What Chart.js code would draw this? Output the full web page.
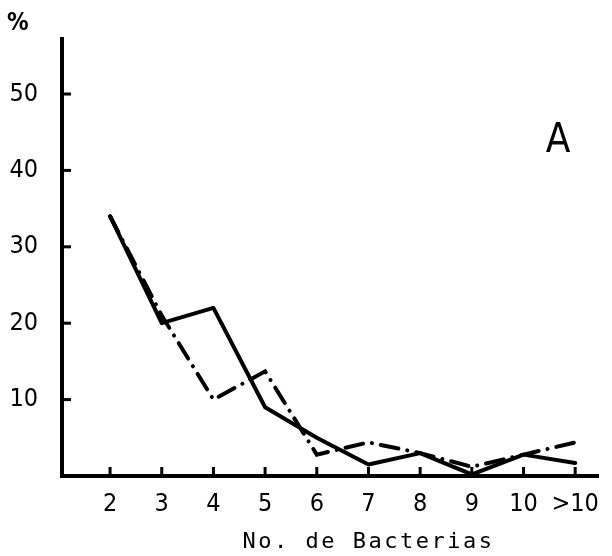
<!DOCTYPE html>
<html>
<head>
<meta charset="utf-8">
<script src="https://cdn.jsdelivr.net/npm/chart.js@4"></script>
<style>
  html, body { margin: 0; padding: 0; background: #fff; }
  #wrap { width: 612px; height: 556px; }
</style>
</head>
<body>
<div id="wrap"><canvas id="chart" width="612" height="556"></canvas></div>
<script>
// category positions and their labels
const xValues = [2, 3, 4, 5, 6, 7, 8, 9, 10, 11];
const xLabels = ['2', '3', '4', '5', '6', '7', '8', '9', '10', '>10'];
// percent values
const solidValues = [34, 20, 22, 9, 5, 1.5, 3, 0.2, 2.8, 1.7];
const dashDotValues = [34, 21, 10, 13.7, 2.8, 4.4, 3, 1.2, 2.8, 4.4];
const yTicks = [10, 20, 30, 40, 50];

const FONT = "'DejaVu Sans Condensed', 'DejaVu Sans', sans-serif";

const toPoints = (vals) => vals.map((v, i) => ({ x: xValues[i], y: v }));

// draws inward tick marks, the "%" and "A" marks and the x title
const decorations = {
  id: 'decorations',
  afterDraw(chart) {
    const ctx = chart.ctx;
    const x = chart.scales.x;
    const y = chart.scales.y;
    const area = chart.chartArea;
    ctx.save();
    ctx.strokeStyle = '#000';
    ctx.lineWidth = 3;
    yTicks.forEach(v => {
      const py = y.getPixelForValue(v);
      ctx.beginPath();
      ctx.moveTo(area.left, py);
      ctx.lineTo(area.left + 9, py);
      ctx.stroke();
    });
    xValues.forEach(v => {
      const px = x.getPixelForValue(v);
      ctx.beginPath();
      ctx.moveTo(px, area.bottom);
      ctx.lineTo(px, area.bottom - 9);
      ctx.stroke();
    });

    ctx.fillStyle = '#000';
    ctx.textBaseline = 'alphabetic';
    ctx.font = 'bold 24px ' + FONT;
    ctx.textAlign = 'left';
    ctx.fillText('%', 7, 30);

    ctx.font = '40px ' + FONT;
    ctx.textAlign = 'center';
    ctx.fillText('A', 558, 152);

    ctx.font = "22px 'DejaVu Sans Mono', monospace";
    ctx.textAlign = 'center';
    if ('letterSpacing' in ctx) ctx.letterSpacing = '2.5px';
    ctx.fillText('No. de Bacterias', x.getPixelForValue(7), 548);
    ctx.restore();
  }
};

new Chart(document.getElementById('chart'), {
  type: 'line',
  data: {
    datasets: [
      {
        label: 'solid',
        data: toPoints(solidValues),
        borderColor: '#000',
        borderWidth: 4,
        borderJoinStyle: 'round',
        borderCapStyle: 'round',
        pointRadius: 0,
        tension: 0
      },
      {
        label: 'dash-dot',
        data: toPoints(dashDotValues),
        borderColor: '#000',
        borderWidth: 4,
        borderDash: [18, 9, 0.1, 9],
        borderCapStyle: 'round',
        pointRadius: 0,
        tension: 0
      }
    ]
  },
  options: {
    responsive: false,
    animation: false,
    layout: { padding: { top: 38, right: 2, left: 0, bottom: 0 } },
    plugins: {
      legend: { display: false },
      tooltip: { enabled: false }
    },
    scales: {
      x: {
        type: 'linear',
        min: 1.07,
        max: 11.45,
        afterBuildTicks: (scale) => { scale.ticks = xValues.map(v => ({ value: v })); },
        afterFit: (scale) => { scale.height = 80; },
        grid: { drawOnChartArea: false, drawTicks: false },
        border: { width: 4, color: '#000' },
        ticks: {
          color: '#000',
          padding: 13,
          autoSkip: false,
          maxRotation: 0,
          font: { family: FONT, size: 25 },
          callback: (v) => {
            const i = xValues.indexOf(v);
            return i >= 0 ? xLabels[i] : '';
          }
        }
      },
      y: {
        min: 0,
        max: 57.2,
        afterBuildTicks: (scale) => { scale.ticks = yTicks.map(v => ({ value: v })); },
        afterFit: (scale) => { scale.width = 62; },
        grid: { drawOnChartArea: false, drawTicks: false },
        border: { width: 4, color: '#000' },
        ticks: {
          color: '#000',
          padding: 24,
          font: { family: FONT, size: 25 }
        }
      }
    }
  },
  plugins: [decorations]
});
</script>
</body>
</html>
